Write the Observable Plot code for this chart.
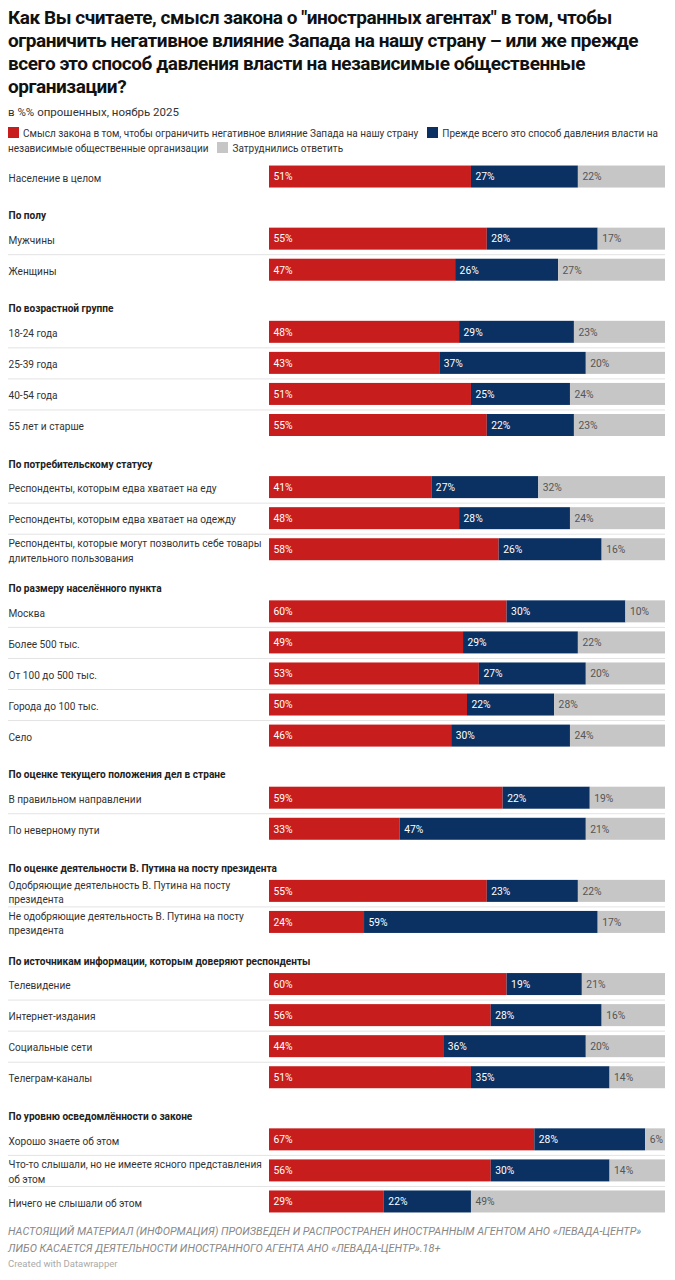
<!DOCTYPE html>
<html>
<head>
<meta charset="utf-8">
<script src="https://cdn.jsdelivr.net/npm/d3@7"></script>
<script src="https://cdn.jsdelivr.net/npm/@observablehq/plot@0.6"></script>
<style>
  html, body { margin: 0; padding: 0; background: #fff; }
  body { width: 675px; font-family: Roboto, "Noto Sans", sans-serif; color: #222; }
  #title { position: absolute; left: 8px; top: 6px; font-size: 19px; font-weight: 700; line-height: 23px; letter-spacing: -0.45px; color: #111; white-space: nowrap; }
  #subtitle { position: absolute; left: 8px; top: 105px; font-size: 11.5px; color: #333; }
  #legend { position: absolute; left: 8px; top: 126px; width: 662px; font-size: 10px; line-height: 15px; color: #333; }
  #legend .ln { display: block; white-space: nowrap; }
  #legend .sw { display: inline-block; width: 11px; height: 11px; vertical-align: -1px; margin-right: 4px; }
  #legend .gap { display: inline-block; width: 9px; }
  #chart { position: absolute; left: 0; top: 161px; }
  #footer { position: absolute; left: 8px; top: 1223px; font-size: 10.85px; line-height: 17px; font-style: italic; color: #888; }
  #credit { position: absolute; left: 8px; top: 1258px; font-size: 9.5px; color: #aaa; }
</style>
</head>
<body>
<div id="title">Как Вы считаете, смысл закона о "иностранных агентах" в том, чтобы<br>ограничить негативное влияние Запада на нашу страну – или же прежде<br>всего это способ давления власти на независимые общественные<br>организации?</div>
<div id="subtitle">в %% опрошенных, ноябрь 2025</div>
<div id="legend"></div>
<div id="chart"></div>
<div id="footer">НАСТОЯЩИЙ МАТЕРИАЛ (ИНФОРМАЦИЯ) ПРОИЗВЕДЕН И РАСПРОСТРАНЕН ИНОСТРАННЫМ АГЕНТОМ АНО «ЛЕВАДА-ЦЕНТР»<br>ЛИБО КАСАЕТСЯ ДЕЯТЕЛЬНОСТИ ИНОСТРАННОГО АГЕНТА АНО «ЛЕВАДА-ЦЕНТР».18+</div>
<div id="credit">Created with Datawrapper</div>
<script>
const seriesNames = [
  "Смысл закона в том, чтобы ограничить негативное влияние Запада на нашу страну",
  "Прежде всего это способ давления власти на независимые общественные организации",
  "Затруднились ответить"
];
const seriesColors = ["#c71e1d", "#0a3161", "#c6c6c6"];

const groupHeaders = [
  "",
  "По полу",
  "По возрастной группе",
  "По потребительскому статусу",
  "По размеру населённого пункта",
  "По оценке текущего положения дел в стране",
  "По оценке деятельности В. Путина на посту президента",
  "По источникам информации, которым доверяют респонденты",
  "По уровню осведомлённости о законе"
];

const categories = [
  "Население в целом",
  "Мужчины", "Женщины",
  "18-24 года", "25-39 года", "40-54 года", "55 лет и старше",
  "Респонденты, которым едва хватает на еду",
  "Респонденты, которым едва хватает на одежду",
  "Респонденты, которые могут позволить себе товары\nдлительного пользования",
  "Москва", "Более 500 тыс.", "От 100 до 500 тыс.", "Города до 100 тыс.", "Село",
  "В правильном направлении", "По неверному пути",
  "Одобряющие деятельность В. Путина на посту\nпрезидента",
  "Не одобряющие деятельность В. Путина на посту\nпрезидента",
  "Телевидение", "Интернет-издания", "Социальные сети", "Телеграм-каналы",
  "Хорошо знаете об этом",
  "Что-то слышали, но не имеете ясного представления\nоб этом",
  "Ничего не слышали об этом"
];

const categoryGroup = [
  0,
  1, 1,
  2, 2, 2, 2,
  3, 3, 3,
  4, 4, 4, 4, 4,
  5, 5,
  6, 6,
  7, 7, 7, 7,
  8, 8, 8
];

const smyslValues    = [51, 55, 47, 48, 43, 51, 55, 41, 48, 58, 60, 49, 53, 50, 46, 59, 33, 55, 24, 60, 56, 44, 51, 67, 56, 29];
const davlenieValues = [27, 28, 26, 29, 37, 25, 22, 27, 28, 26, 30, 29, 27, 22, 30, 22, 47, 23, 59, 19, 28, 36, 35, 28, 30, 22];
const zatrudValues   = [22, 17, 27, 23, 20, 24, 23, 32, 24, 16, 10, 22, 20, 28, 24, 19, 21, 22, 17, 21, 16, 20, 14,  6, 14, 49];

// Build slots (headers + rows)
const slots = [];
groupHeaders.forEach((h, g) => {
  if (h) slots.push({key: "H:" + h, label: h, type: "header"});
  let first = true;
  categories.forEach((c, i) => {
    if (categoryGroup[i] === g) {
      slots.push({key: c, label: c, type: "row", first});
      first = false;
    }
  });
});
const rows = slots.filter(d => d.type === "row");
const headerSlots = slots.filter(d => d.type === "header");
const sepRows = rows.filter(d => !d.first);

const long = [];
categories.forEach((c, i) => {
  [smyslValues[i], davlenieValues[i], zatrudValues[i]].forEach((v, s) => {
    long.push({key: c, series: seriesNames[s], value: v, s});
  });
});

const height = 1056;
const step = height / slots.length;
const barH = 22;
const inset = (step - barH) / 2;

// Legend: two lines, the second series name wraps after "власти на"
const sw = i => `<span class="sw" style="background:${seriesColors[i]}"></span>`;
const splitAt = seriesNames[1].indexOf("независимые");
const legend = document.getElementById("legend");
legend.innerHTML =
  `<span class="ln">${sw(0)}${seriesNames[0]}<span class="gap"></span>${sw(1)}${seriesNames[1].slice(0, splitAt).trim()}</span>` +
  `<span class="ln">${seriesNames[1].slice(splitAt)}<span class="gap"></span>${sw(2)}${seriesNames[2]}</span>`;

const chart = Plot.plot({
  width: 675,
  height,
  marginLeft: 8,
  marginRight: 10,
  marginTop: 0,
  marginBottom: 0,
  style: {fontFamily: "Roboto, 'Noto Sans', sans-serif", background: "white"},
  x: {domain: [0, 100], range: [269, 665], axis: null},
  y: {type: "band", domain: slots.map(d => d.key), padding: 0, round: false, axis: null},
  color: {domain: seriesNames, range: seriesColors},
  marks: [
    Plot.ruleY(sepRows, {y: "key", dy: -step / 2, stroke: "#e3e3e3", strokeWidth: 1}),
    Plot.barX(long, Plot.stackX({
      x: "value", y: "key", fill: "series", z: "series", order: seriesNames,
      insetTop: inset, insetBottom: inset, clip: true
    })),
    Plot.text(long, Plot.stackX1({
      x: "value", y: "key", z: "series", order: seriesNames,
      text: d => d.s < 2 ? d.value + "%" : "",
      textAnchor: "start", dx: 4, fill: "#ffffff", fontSize: 10.3
    })),
    Plot.text(long, Plot.stackX1({
      x: "value", y: "key", z: "series", order: seriesNames,
      text: d => d.s === 2 ? d.value + "%" : "",
      textAnchor: "start", dx: 4, fill: "#555555", fontSize: 10.3
    })),
    Plot.text(rows, {
      y: "key", text: "label", frameAnchor: "left", textAnchor: "start",
      fontSize: 10.1, fill: "#333333", lineHeight: 1.45
    }),
    Plot.text(headerSlots, {
      y: "key", text: "label", frameAnchor: "left", textAnchor: "start",
      fontSize: 10.1, fontWeight: 700, fill: "#222222", dy: 8
    })
  ]
});
document.getElementById("chart").appendChild(chart);
</script>
</body>
</html>
